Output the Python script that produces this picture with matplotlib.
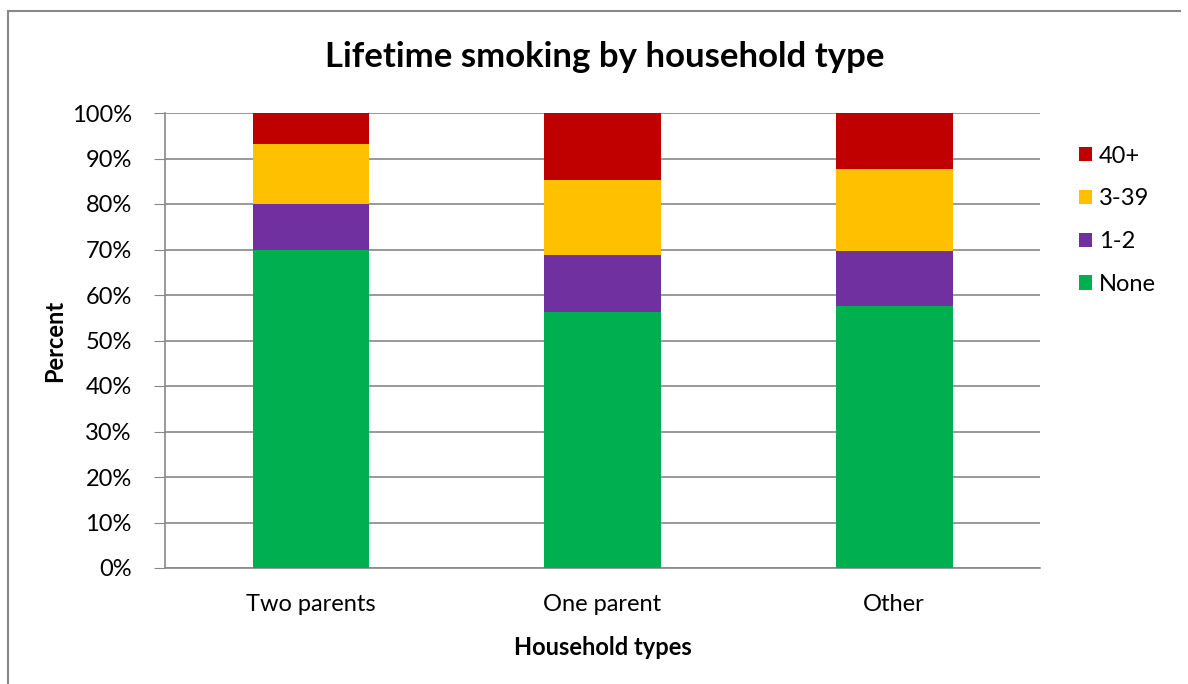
import numpy as np
import matplotlib.pyplot as plt
from matplotlib.ticker import PercentFormatter

# Data (percent of each household type)
categories = ["Two parents", "One parent", "Other"]
none_vals = [70.0, 56.3, 57.5]
one_two_vals = [9.9, 12.5, 12.2]
three_39_vals = [13.3, 16.5, 18.1]
forty_plus_vals = [6.8, 14.7, 12.2]

series = [("None", none_vals, "#00B050"),
          ("1-2", one_two_vals, "#7030A0"),
          ("3-39", three_39_vals, "#FFC000"),
          ("40+", forty_plus_vals, "#C00000")]

plt.rcParams['font.family'] = ['Lato', 'DejaVu Sans']

fig = plt.figure(figsize=(11.88, 6.84), dpi=100)
ax = fig.add_axes([165 / 1188, 1 - 568 / 684, 875 / 1188, 455 / 684])

x = np.arange(len(categories))
bottom = np.zeros(len(categories))
handles = []
for name, vals, color in series:
    b = ax.bar(x, vals, 0.4, bottom=bottom, color=color, label=name, zorder=3)
    handles.append(b)
    bottom += np.array(vals)

ax.set_xlim(-0.5, len(categories) - 0.5)
ax.set_ylim(0, 100)
ax.set_yticks(np.arange(0, 101, 10))
ax.yaxis.set_major_formatter(PercentFormatter(decimals=0))
ax.set_xticks(x)
ax.set_xticklabels(categories)
ax.grid(axis="y", color="#888888", linewidth=1.2, zorder=0)

for side in ["top", "right"]:
    ax.spines[side].set_visible(False)
for side in ["left", "bottom"]:
    ax.spines[side].set_color("#888888")
    ax.spines[side].set_linewidth(1.2)
ax.tick_params(axis="y", length=8, color="#888888", labelsize=17, pad=16)
ax.tick_params(axis="x", length=0, labelsize=17, pad=19)

ax.set_ylabel("Percent", fontsize=17, fontweight="bold", labelpad=4)
ax.set_xlabel("Household types", fontsize=17, fontweight="bold", labelpad=15)
fig.text(605 / 1188, 1 - 57 / 684, "Lifetime smoking by household type",
         fontsize=25, fontweight="bold", ha="center", va="center")

# legend in reverse order, like the stack
ax.legend(handles[::-1], [s[0] for s in series][::-1], loc="upper left",
          bbox_to_anchor=(1.02, 0.975), frameon=False, fontsize=17,
          handlelength=0.55, handleheight=0.55, labelspacing=0.92, handletextpad=0.3)

# outer chart border (left and top visible)
fig.add_artist(plt.Line2D([8 / 1188, 8 / 1188], [0, 1 - 11 / 684], transform=fig.transFigure,
                          color="#888888", linewidth=1.5))
fig.add_artist(plt.Line2D([8 / 1188, 1180 / 1188], [1 - 11 / 684, 1 - 11 / 684],
                          transform=fig.transFigure, color="#888888", linewidth=1.5))

plt.savefig("out.png", dpi=100)
